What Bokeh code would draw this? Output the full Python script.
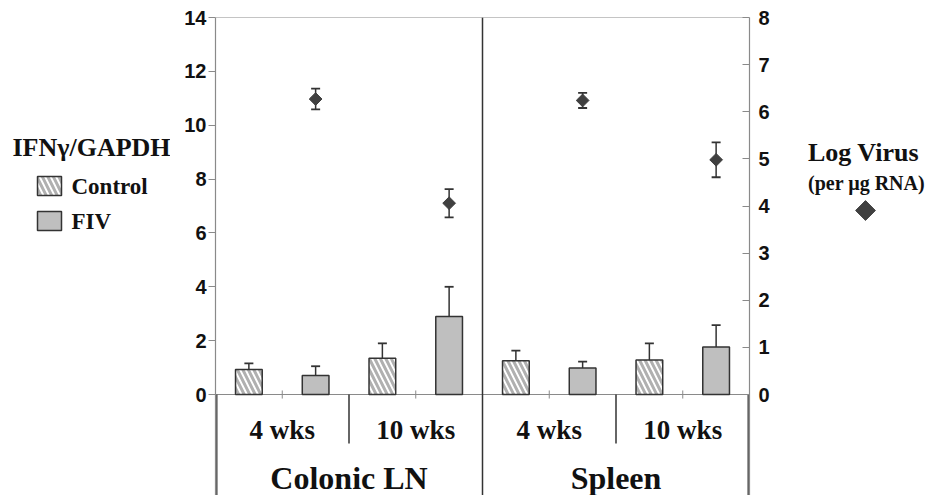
import math
from bokeh.plotting import figure
from bokeh.layouts import row
from bokeh.models import Range1d, LinearAxis, FixedTicker
from bokeh.core.properties import value
from bokeh.embed import file_html
from bokeh.resources import INLINE

# ---------------- data ----------------
tissues = ["Colonic LN", "Spleen"]
times = ["4 wks", "10 wks"]
groups = ["Control", "FIV"]
# one value per (tissue, time): Colonic 4, Colonic 10, Spleen 4, Spleen 10
ifn_control = [0.93, 1.35, 1.25, 1.28]
ifn_control_err = [0.23, 0.55, 0.38, 0.62]
ifn_fiv = [0.71, 2.90, 0.98, 1.76]
ifn_fiv_err = [0.34, 1.10, 0.24, 0.82]
virus_log = [6.27, 4.06, 6.24, 4.98]
virus_err = [0.22, 0.30, 0.16, 0.37]
left_ticks = [0, 2, 4, 6, 8, 10, 12, 14]
right_ticks = [0, 1, 2, 3, 4, 5, 6, 7, 8]
left_title = "IFNγ/GAPDH"
right_title = ["Log Virus", "(per µg RNA)"]

# ---------------- positions (slot units) ----------------
n_sub = len(tissues) * len(times)
ctrl_x = [2 * k + 0.5 for k in range(n_sub)]
fiv_x = [2 * k + 1.5 for k in range(n_sub)]
time_x = [2 * k + 1 for k in range(n_sub)]
time_lab = [times[k % len(times)] for k in range(n_sub)]
tissue_x = [4 * t + 2 for t in range(len(tissues))]

LMAX = 14.0
RMAX = 8.0
LMIN = -3.75
RMIN = LMIN * RMAX / LMAX

SERIF = "Liberation Serif"
SANS = "Liberation Sans"
GREY = "#8a8a8a"
DARK = "#333333"
TXT = "#111111"
H = 495
TOP = 17

CTRL_STYLE = dict(fill_color="white", line_color=DARK, line_width=1.5, hatch_pattern="\\",
                  hatch_color="#b0b0b0", hatch_weight=3, hatch_scale=11)
FIV_STYLE = dict(fill_color="#bfbfbf", line_color=DARK, line_width=1.5)


def blank(width, x0, x1):
    # frames in a row are aligned with the main frame (top border TOP)
    f = figure(width=width, height=H, output_backend="svg", toolbar_location=None,
               title=None, x_range=Range1d(x0, x1), y_range=Range1d(0, H - TOP),
               min_border=0, min_border_top=TOP, outline_line_color=None)
    f.axis.visible = False
    f.grid.visible = False
    return f


# ---------------- main figure ----------------
p = figure(width=630, height=H, output_backend="svg", toolbar_location=None,
           x_range=Range1d(0, 8), y_range=Range1d(LMIN, LMAX),
           min_border_left=45, min_border_right=51, min_border_top=TOP,
           min_border_bottom=0, outline_line_color=None)
p.extra_y_ranges = {"right": Range1d(RMIN, RMAX)}
p.xaxis.visible = False
p.xgrid.visible = False
p.ygrid.visible = False

yl = p.yaxis[0]
yl.ticker = FixedTicker(ticks=left_ticks)
yr = LinearAxis(y_range_name="right", ticker=FixedTicker(ticks=right_ticks))
p.add_layout(yr, "right")
for ax, tin, tout, so in ((yl, 0, 7, 2), (yr, 7, 0, 9)):
    ax.axis_line_color = GREY
    ax.axis_line_width = 1.2
    ax.major_tick_line_color = GREY
    ax.major_tick_out = tout
    ax.major_tick_in = tin
    ax.minor_tick_line_color = None
    ax.major_label_standoff = so
    ax.major_label_text_font = SANS
    ax.major_label_text_font_style = "bold"
    ax.major_label_text_font_size = "20px"
    ax.major_label_text_color = TXT

# frame top line and x baseline
p.segment(x0=[0, 0], y0=[LMAX, 0], x1=[8, 8], y1=[LMAX, 0], line_color=GREY, line_width=1.2)
p.segment(x0=[1, 3, 5, 7], y0=[-0.15] * 4, x1=[1, 3, 5, 7], y1=[0.15] * 4,
          line_color=GREY, line_width=1)
# dividers
p.segment(x0=[2, 6], y0=[0, 0], x1=[2, 6], y1=[-1.82, -1.82], line_color=DARK, line_width=1.5)
p.segment(x0=[4], y0=[LMAX], x1=[4], y1=[LMIN], line_color=DARK, line_width=1.5)
p.segment(x0=[0.02, 7.98], y0=[0, 0], x1=[0.02, 7.98], y1=[LMIN, LMIN],
          line_color="#555555", line_width=1.5)


def upper_err(xs, vals, errs):
    tops = [v + e for v, e in zip(vals, errs)]
    p.segment(x0=xs, y0=vals, x1=xs, y1=tops, line_color=DARK, line_width=1.5)
    p.scatter(x=xs, y=tops, marker="dash", size=9, line_color=DARK, line_width=1.8)


upper_err(ctrl_x, ifn_control, ifn_control_err)
upper_err(fiv_x, ifn_fiv, ifn_fiv_err)
p.vbar(x=ctrl_x, top=ifn_control, bottom=0, width=0.4, **CTRL_STYLE)
p.vbar(x=fiv_x, top=ifn_fiv, bottom=0, width=0.4, **FIV_STYLE)

v_lo = [v - e for v, e in zip(virus_log, virus_err)]
v_hi = [v + e for v, e in zip(virus_log, virus_err)]
p.segment(x0=fiv_x, y0=v_lo, x1=fiv_x, y1=v_hi, line_color=DARK, line_width=1.5,
          y_range_name="right")
p.scatter(x=fiv_x + fiv_x, y=v_lo + v_hi, marker="dash", size=9, line_color=DARK,
          line_width=1.8, y_range_name="right")
p.scatter(x=fiv_x, y=virus_log, marker="square", angle=math.pi / 4, size=9,
          fill_color="#404040", line_color="#404040", y_range_name="right")

p.text(x=time_x, y=[-1.30] * n_sub, text=time_lab, text_align="center",
       text_baseline="middle", text_font=value(SERIF), text_font_style="bold",
       text_font_size="27px", text_color=TXT)
p.text(x=tissue_x, y=[-3.10] * len(tissues), text=tissues, text_align="center",
       text_baseline="middle", text_font=value(SERIF), text_font_style="bold",
       text_font_size="32px", text_color=TXT)

# ---------------- left legend panel (y = distance from page bottom) ----------------
lf = blank(170, 0, 170)
lf.text(x=[12], y=[H - 147], text=[left_title], text_align="left", text_baseline="middle",
        text_font=value(SERIF), text_font_style="bold", text_font_size="26px",
        text_color=TXT)
lf.rect(x=[49], y=[H - 185.5], width=24, height=19, **CTRL_STYLE)
lf.rect(x=[49], y=[H - 220.5], width=24, height=19, **FIV_STYLE)
lf.text(x=[71, 71], y=[H - 186, H - 221], text=groups, text_align="left",
        text_baseline="middle", text_font=value(SERIF), text_font_style="bold",
        text_font_size="23px", text_color=TXT)

# ---------------- right legend panel ----------------
rf = blank(130, 800, 930)
rf.text(x=[863, 866], y=[H - 152, H - 182], text=right_title, text_align="center",
        text_baseline="middle", text_font=value(SERIF), text_font_style="bold",
        text_font_size=["26px", "20px"], text_color=TXT)
rf.scatter(x=[865], y=[H - 210], marker="square", angle=math.pi / 4, size=14,
           fill_color="#404040", line_color="#404040")

layout = row(lf, p, rf, spacing=0)
open("out.html", "w").write(file_html(layout, INLINE))
